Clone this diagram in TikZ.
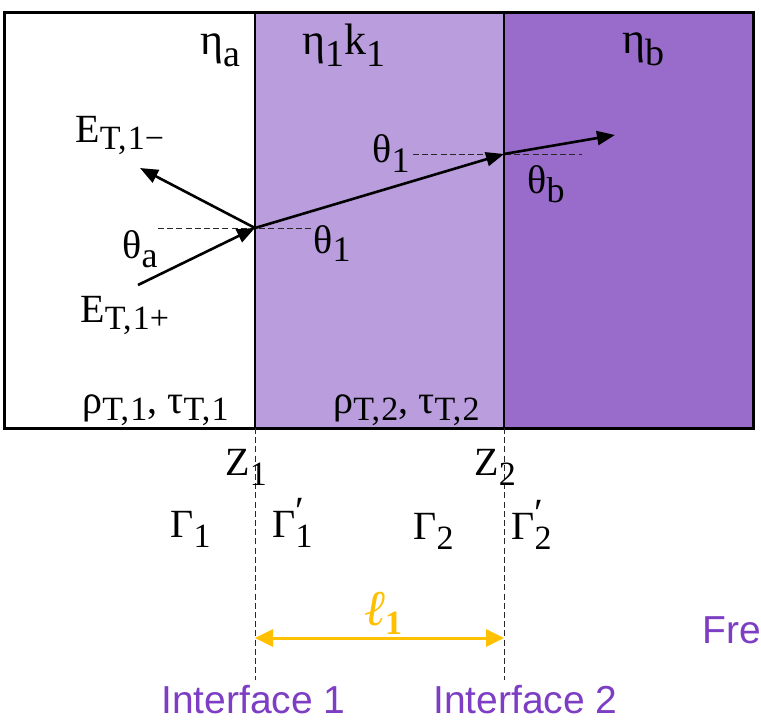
\documentclass[tikz,border=0pt]{standalone}
\usepackage{fontspec}
\setmainfont{Liberation Serif}
\newfontfamily\ifacefont{Liberation Sans}
\usetikzlibrary{arrows.meta}
\definecolor{layerone}{RGB}{185,157,221}
\definecolor{layertwo}{RGB}{153,108,204}
\definecolor{ifacepurple}{RGB}{125,62,196}
\definecolor{ellgold}{RGB}{255,192,0}
\definecolor{dashgray}{RGB}{40,40,40}
% lowered subscript: #1 drop (pt), #2 size (pt), #3 text
\newcommand{\sbx}[3]{\raisebox{-#1pt}{\fontsize{#2}{#2}\selectfont #3}}
\newcommand{\cm}{,\hspace{0.04em}}
\newcommand{\primesb}[3]{\makebox[0pt][l]{\raisebox{#1pt}{\fontsize{20}{20}\selectfont ′}}\raisebox{-#2pt}{\fontsize{17}{17}\selectfont #3}}
\tikzset{
  lbl/.style={anchor=base west, inner sep=0pt, font=\fontsize{20}{20}\selectfont},
  etalbl/.style={anchor=base west, inner sep=0pt, font=\fontsize{22}{22}\selectfont},
  ifacelbl/.style={anchor=base west, inner sep=0pt, text=ifacepurple, font=\ifacefont\fontsize{19.5}{19.5}\selectfont},
  ray/.style={line width=1.3pt, -{Triangle[length=9pt,width=7pt]}},
  normal/.style={line width=0.5pt, dashgray, dash pattern=on 3pt off 1.6pt},
  border/.style={line width=1.5pt},
  iface/.style={line width=1.4pt},
}
\begin{document}
\begin{tikzpicture}[x=0.5pt,y=-0.5pt]
\fill[white] (0,0) rectangle (761,719);
\useasboundingbox (0,0) rectangle (761,719);
% layers
\fill[layerone] (255,12) rectangle (504,428);
\fill[layertwo] (504,12) rectangle (753,428);
\coordinate (I1top) at (255,12);
\coordinate (I1bot) at (255,428);
\coordinate (I2top) at (504,12);
\coordinate (I2bot) at (504,428);
\coordinate (I1end) at (255,680);
\coordinate (I2end) at (504,680);
\draw[iface] (I1top) -- (I1bot);
\draw[iface] (I2top) -- (I2bot);
\draw[border] (4,12) rectangle (753,428);
% rays
\coordinate (P1) at (255,228);
\coordinate (P2) at (504,154);
\coordinate (Src) at (138,285);
\coordinate (Refl) at (140,168);
\coordinate (Trans) at (615,135);
\coordinate (N1a) at (158,228);
\coordinate (N1b) at (312,228);
\coordinate (N2a) at (413,154);
\coordinate (N2b) at (582,154);
\draw[normal] (N1a) -- (N1b);
\draw[normal] (N2a) -- (N2b);
\draw[ray] (Src) -- (P1);
\draw[ray] (P1) -- (Refl);
\draw[ray] (P1) -- (P2);
\draw[ray] (P2) -- (Trans);
% dashed interface extensions
\draw[normal] (I1bot) -- (I1end);
\draw[normal] (I2bot) -- (I2end);
% thickness arrow
\coordinate (L1) at (255,638);
\coordinate (L2) at (504,638);
\draw[ellgold, line width=1.5pt, {Triangle[length=9pt,width=8.5pt]}-{Triangle[length=9pt,width=8.5pt]}] (L1) -- (L2);
% labels
\node[etalbl] (etaa) at (200,54) {η\sbx{6}{19}{a}};
\node[etalbl] (eta1) at (302,54) {η\sbx{6}{19}{1}k\sbx{6}{19}{1}};
\node[etalbl] (etab) at (622,53) {η\sbx{6}{19}{b}};
\node[lbl] (Em) at (75,142) {E\sbx{3.5}{17}{T\cm 1−}};
\node[lbl] (Ep) at (80,322) {E\sbx{3.5}{17}{T\cm 1+}};
\node[lbl] (tha) at (122,258) {θ\sbx{4.5}{18}{a}};
\node[lbl] (th1l) at (313,253) {θ\sbx{4}{18}{1}};
\node[lbl] (th1u) at (372,162) {θ\sbx{5}{18}{1}};
\node[lbl] (thb) at (527,193) {θ\sbx{4.5}{18}{b}};
\node[lbl] (rt1) at (82,413) {ρ\sbx{3.5}{17}{T\cm 1}, τ\sbx{3.5}{17}{T\cm 1}};
\node[lbl] (rt2) at (333,413) {ρ\sbx{3.5}{17}{T\cm 2}, τ\sbx{3.5}{17}{T\cm 2}};
\node[lbl] (Z1) at (225,475) {Z\sbx{5}{17}{1}};
\node[lbl] (Z2) at (474,475) {Z\sbx{5}{17}{2}};
\node[lbl] (G1) at (170,537) {Γ\sbx{5}{17}{1}};
\node[lbl] (G1p) at (272,537) {Γ\primesb{6.5}{5}{1}};
\node[lbl] (G2) at (413,539) {Γ\sbx{5}{17}{2}};
\node[lbl] (G2p) at (511,539) {Γ\primesb{6.5}{5}{2}};
\node[lbl, text=ellgold] (ell) at (364,625) {{\fontsize{25}{25}\selectfont\itshape ℓ}\sbx{4.5}{17}{\textbf{1}}};
\node[ifacelbl] (fre) at (702,643) {Fre};
\node[ifacelbl] (if1) at (161,713) {Interface 1};
\node[ifacelbl] (if2) at (433,713) {Interface 2};
\end{tikzpicture}
\end{document}
